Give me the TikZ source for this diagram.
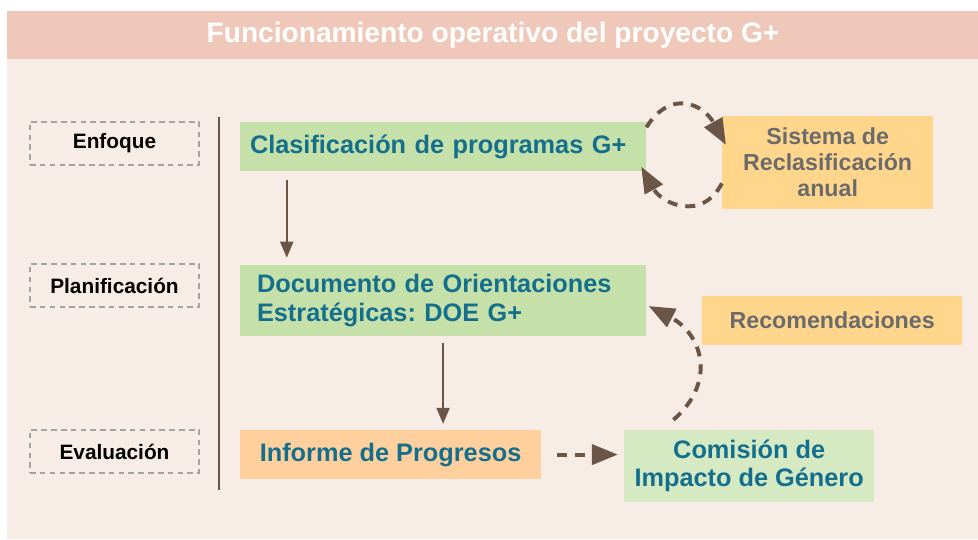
\documentclass[tikz,border=0pt]{standalone}
\usepackage{fontspec}
\setmainfont{Liberation Sans}
\usetikzlibrary{arrows.meta,positioning}
\frenchspacing

\definecolor{headerpink}{HTML}{EFC8BA}
\definecolor{panelpink}{HTML}{F8ECE6}
\definecolor{boxgreen}{HTML}{C5E1A9}
\definecolor{palegreen}{HTML}{D5E9C3}
\definecolor{boxpeach}{HTML}{FFD09E}
\definecolor{boxyellow}{HTML}{FFD68C}
\definecolor{tealtext}{HTML}{146F8D}
\definecolor{greytext}{HTML}{6B6B6B}
\definecolor{arrowbrown}{HTML}{6B5547}
\definecolor{dashgrey}{HTML}{A3A3A3}

\begin{document}
\begin{tikzpicture}[
        x = 0.025cm, y = -0.025cm, % one unit per pixel, y going down
        > = {Triangle[length=0.4cm, width=0.325cm]}, % arrow head style
        font = \bfseries
      ]

      \tikzstyle{phase}=[rectangle, draw=dashgrey, line width=0.9pt, dash pattern=on 4pt off 3pt,
        minimum width=4.225cm, minimum height=1.075cm, inner sep=0pt,
        font=\fontsize{14.8}{17}\selectfont\bfseries]
      \tikzstyle{stage}=[rectangle, fill=boxgreen, text=tealtext, inner sep=0pt,
        font=\fontsize{18}{20}\selectfont\bfseries]
      \tikzstyle{extra}=[rectangle, fill=boxyellow, text=greytext, inner sep=0pt, align=center,
        font=\fontsize{16.5}{18.5}\selectfont\bfseries]
      \tikzstyle{flow}=[->, draw=arrowbrown, line width=1.4pt]
      \tikzstyle{dashflow}=[-{Triangle[length=0.65cm, width=0.5cm]}, draw=arrowbrown,
        line width=2.8pt, dash pattern=on 0.25cm off 0.2cm]

      % background and title band
      \fill[white] (0,0) rectangle (978,539);
      \fill[panelpink] (7,11) rectangle (978,539);
      \fill[headerpink] (7,11) rectangle (978,59);
      \node[text=white, font=\fontsize{20}{22}\selectfont\bfseries] (title) at (493,35.5)
        {Funcionamiento operativo del proyecto G+};

      % phases
      \node[phase] (enf) at (114.5,143.5) {Enfoque};
      \node[phase] (pla) [below of=enf, node distance=3.55cm] {Planificación};
      \node[phase] (eva) [below of=pla, node distance=4.15cm] {Evaluación};
      \draw[arrowbrown, line width=1pt] (219,117) -- (219,490);

      % main column
      \node[stage, minimum height=1.225cm, inner xsep=0.25cm, text width=9.65cm, align=left] (clas)
        [right of=enf, node distance=8.2125cm, yshift=-0.075cm] {Clasificación de programas G+};
      \node[stage, minimum height=1.775cm, inner xsep=0.425cm, text width=9.3cm, align=left] (doc)
        [below of=clas, node distance=3.85cm] {Documento de Orientaciones\\Estratégicas: DOE G+};
      \node[stage, fill=boxpeach, minimum width=7.525cm, minimum height=1.225cm] (inf)
        [right of=eva, node distance=6.9cm, yshift=-0.075cm] {Informe de Progresos};
      \node[stage, fill=palegreen, minimum width=6.25cm, minimum height=1.8cm, align=center] (com)
        [right of=inf, node distance=8.9625cm, yshift=-0.2875cm] {Comisión de\\Impacto de Género};

      % side boxes
      \node[extra, minimum width=5.275cm, minimum height=2.325cm] (sis)
        [right of=clas, node distance=9.6125cm, yshift=-0.4cm] {Sistema de\\Reclasificación\\anual};
      \node[extra, minimum width=6.5cm, minimum height=1.225cm] (rec)
        [right of=doc, node distance=9.725cm, yshift=-0.5cm] {Recomendaciones};

      \path ([xshift=1.175cm]clas.south west) edge[flow, shorten <=0.225cm, shorten >=0.175cm]
        ([xshift=1.175cm]clas.south west |- doc.north);
      \path (doc.south) edge[flow, shorten <=0.175cm, shorten >=0.15cm] (doc.south |- inf.north);
      \path (inf.east) edge[dashflow, shorten <=0.4cm, shorten >=0.15cm] (com.west |- inf.east);
      \path ([yshift=0.48cm]clas.east) edge[dashflow, out=58, in=119, looseness=1.45]
        ([xshift=0.1cm, yshift=0.44cm]sis.west);
      \path ([yshift=-0.52cm]sis.west) edge[dashflow, out=-117, in=-61, looseness=1.33]
        ([xshift=-0.13cm, yshift=-0.505cm]clas.east);
      \path ([xshift=-1.8925cm, yshift=0.25cm]com.north) edge[dashflow, out=41, in=-27.5, looseness=1.3]
        ([xshift=0.0575cm, yshift=-0.1375cm]doc.east);

    \end{tikzpicture}
\end{document}
